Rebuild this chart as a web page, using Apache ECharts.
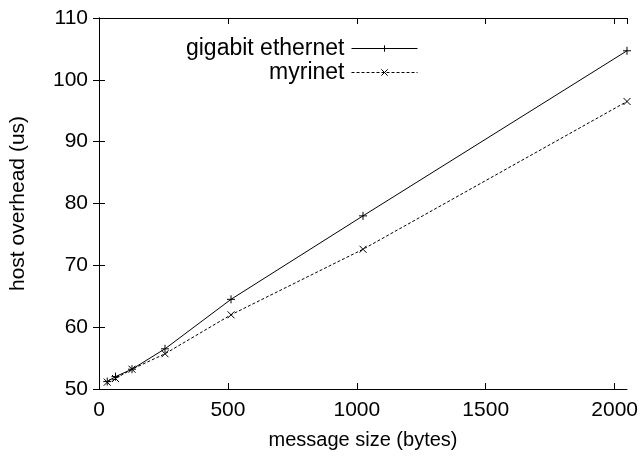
<!DOCTYPE html>
<html>
<head>
<meta charset="utf-8">
<script src="https://cdn.jsdelivr.net/npm/echarts@6/dist/echarts.min.js"></script>
<style>
  html, body { margin: 0; padding: 0; background: #fff; }
  #chart { width: 641px; height: 461px; }
</style>
</head>
<body>
<div id="chart"></div>
<script>
// Message sizes (bytes) and measured host overhead (microseconds)
var messageSizes = [32, 64, 128, 256, 512, 1024, 2048];
var gigabitEthernet = [51.2, 52.0, 53.2, 56.5, 64.5, 78.0, 104.7];
var myrinet = [51.1, 51.7, 53.2, 55.7, 62.0, 72.6, 96.5];
var seriesNames = ['gigabit ethernet', 'myrinet'];

var FONT = '"Liberation Sans", Arial, Helvetica, sans-serif';
var TICK_SIZE = 21;
var X_TITLE_SIZE = 20;
var Y_TITLE_SIZE = 21;
var KEY_SIZE = 23;
var plusSymbol = 'path://M0,-4L0,4M-4,0L4,0';
var crossSymbol = 'path://M-3,-3L3,3M-3,3L3,-3';

function pairs(xs, ys) {
  return xs.map(function (x, i) { return [x, ys[i]]; });
}

var axisLineStyle = { show: true, lineStyle: { color: '#000', width: 1 } };
var tickStyle = { show: true, inside: true, length: 6, lineStyle: { color: '#000', width: 1 } };
var labelStyle = { color: '#000', fontFamily: FONT, fontSize: TICK_SIZE };

function legendFor(name, top) {
  return {
    data: [name],
    right: 223, top: top,
    padding: 0,
    align: 'right',
    itemWidth: 66, itemHeight: 8, itemGap: 8,
    lineStyle: { width: 1 },
    itemStyle: { borderWidth: 1 },
    textStyle: { color: '#000', fontFamily: FONT, fontSize: KEY_SIZE, padding: [0, 2, 0, 0] }
  };
}

var chart = echarts.init(document.getElementById('chart'), null, { renderer: 'canvas' });

chart.setOption({
  animation: false,
  backgroundColor: '#fff',
  grid: { left: 99, right: 14, top: 18, bottom: 72 },
  legend: [legendFor(seriesNames[0], 37), legendFor(seriesNames[1], 61)],
  xAxis: [
    {
      type: 'value', position: 'bottom',
      min: 0, max: 2048, interval: 500,
      name: 'message size (bytes)', nameLocation: 'middle', nameGap: 41,
      nameTextStyle: { color: '#000', fontFamily: FONT, fontSize: X_TITLE_SIZE },
      axisLine: axisLineStyle, axisTick: tickStyle,
      axisLabel: Object.assign({
        margin: 11, showMaxLabel: false,
        formatter: function (v) { return String(v); }
      }, labelStyle),
      splitLine: { show: false }
    },
    {
      type: 'value', position: 'top',
      min: 0, max: 2048, interval: 500,
      axisLine: axisLineStyle, axisTick: tickStyle,
      axisLabel: { show: false }, splitLine: { show: false }
    }
  ],
  yAxis: [
    {
      type: 'value', position: 'left',
      min: 50, max: 110, interval: 10,
      name: 'host overhead (us)', nameLocation: 'middle', nameGap: 70,
      nameTextStyle: { color: '#000', fontFamily: FONT, fontSize: Y_TITLE_SIZE },
      axisLine: axisLineStyle, axisTick: tickStyle,
      axisLabel: Object.assign({ margin: 11 }, labelStyle),
      splitLine: { show: false }
    },
    {
      type: 'value', position: 'right',
      min: 50, max: 110, interval: 10,
      axisLine: axisLineStyle, axisTick: tickStyle,
      axisLabel: { show: false }, splitLine: { show: false }
    }
  ],
  series: [
    {
      name: seriesNames[0],
      type: 'line',
      data: pairs(messageSizes, gigabitEthernet),
      symbol: plusSymbol, symbolSize: 8,
      itemStyle: { color: 'none', borderColor: '#000', borderWidth: 1 },
      lineStyle: { color: '#000', width: 1, type: 'solid' }
    },
    {
      name: seriesNames[1],
      type: 'line',
      data: pairs(messageSizes, myrinet),
      symbol: crossSymbol, symbolSize: 7,
      itemStyle: { color: 'none', borderColor: '#000', borderWidth: 1 },
      lineStyle: { color: '#000', width: 1, type: [3, 2] }
    }
  ]
});
</script>
</body>
</html>
